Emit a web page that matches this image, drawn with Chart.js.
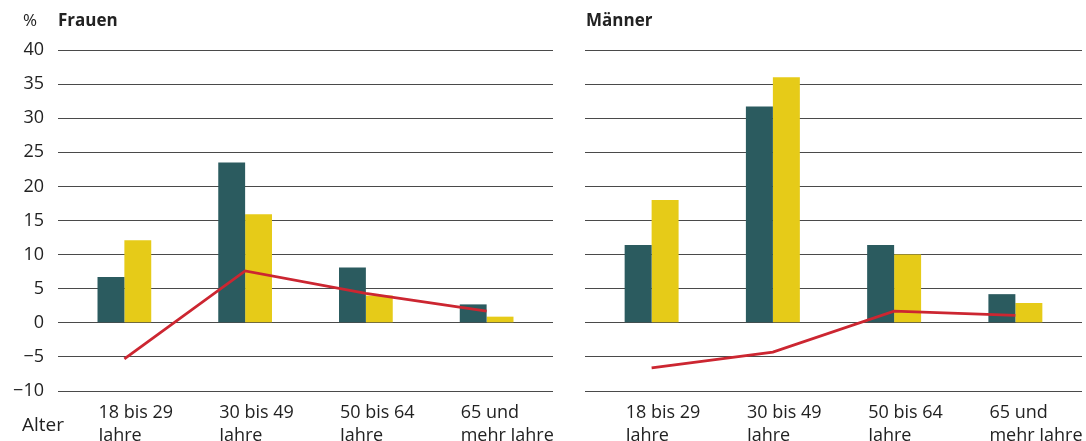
<!DOCTYPE html>
<html>
<head>
<meta charset="utf-8">
<script src="https://cdn.jsdelivr.net/npm/chart.js@4"></script>
<style>
  body { margin: 0; background: #fff; font-family: 'Open Sans', sans-serif; color: #222; }
  #wrap { position: relative; width: 1086px; height: 441px; overflow: hidden; }
  canvas { position: absolute; top: 0; }
  .txt { position: absolute; font-size: 18px; line-height: 20px; white-space: nowrap; }
  .bold { font-weight: bold; font-size: 17px; }
</style>
</head>
<body>
<div id="wrap">
  <canvas id="frauen" width="560" height="441" style="left:0"></canvas>
  <canvas id="maenner" width="507" height="441" style="left:579px"></canvas>
  <div class="txt" style="left:23px; top:10px; font-size:17px">%</div>
  <div class="txt bold" style="left:58px; top:10px">Frauen</div>
  <div class="txt bold" style="left:586px; top:10px">Männer</div>
  <div class="txt" style="left:22px; top:414px; font-size:19px">Alter</div>
</div>
<script>
// Altersgruppen
var categories = [['18 bis 29', 'Jahre'], ['30 bis 49', 'Jahre'], ['50 bis 64', 'Jahre'], ['65 und', 'mehr Jahre']];

// Frauen
var frauenDunkel = [6.7, 23.5, 8.1, 2.7];
var frauenGelb = [12.1, 15.9, 4.0, 0.9];
var frauenLinie = [-5.3, 7.6, 4.3, 1.7];

// Männer
var maennerDunkel = [11.4, 31.7, 11.4, 4.2];
var maennerGelb = [18.0, 36.0, 10.0, 2.9];
var maennerLinie = [-6.6, -4.3, 1.7, 1.1];

// y-Achse
var yMin = -10;
var yMax = 40;
var yStep = 5;

var DUNKEL = '#2b5b5f';
var GELB = '#e6cb18';
var ROT = '#cc2631';
var GRID = '#4a4a4a';

Chart.defaults.font.family = "'Open Sans', sans-serif";
Chart.defaults.font.size = 18;
Chart.defaults.color = '#222';

function makeChart(id, dunkel, gelb, linie, showY, pad) {
    var ctx = document.getElementById(id);
    return new Chart(ctx, {
        type: 'bar',
        data: {
            labels: categories,
            datasets: [
                {
                    type: 'line',
                    data: linie,
                    borderColor: ROT,
                    borderWidth: 2.8,
                    pointRadius: 0,
                    tension: 0,
                    fill: false
                },
                {
                    data: dunkel,
                    backgroundColor: DUNKEL,
                    categoryPercentage: 0.445,
                    barPercentage: 1.0
                },
                {
                    data: gelb,
                    backgroundColor: GELB,
                    categoryPercentage: 0.445,
                    barPercentage: 1.0
                }
            ]
        },
        options: {
            responsive: false,
            animation: false,
            layout: { padding: pad },
            plugins: { legend: { display: false }, tooltip: { enabled: false } },
            scales: {
                x: {
                    grid: { display: false, drawTicks: false },
                    border: { display: false },
                    ticks: {
                        align: 'start',
                        labelOffset: -26,
                        padding: 10,
                        autoSkip: false,
                        maxRotation: 0,
                        font: { size: 18, lineHeight: 1.28 }
                    },
                    afterFit: function(s) {
                        s.height = 50;
                        s.paddingLeft = 0;
                        s.paddingRight = 0;
                    }
                },
                y: {
                    min: yMin,
                    max: yMax,
                    grid: { color: GRID, lineWidth: 1, tickLength: 6, drawTicks: true },
                    border: { display: false },
                    ticks: {
                        display: showY,
                        stepSize: yStep,
                        padding: 14,
                        callback: function(v) { return v < 0 ? '\u2212' + Math.abs(v) : '' + v; }
                    },
                    afterFit: function(s) { s.width = showY ? 64 : 6; }
                },
                yR: {
                    position: 'right',
                    min: yMin,
                    max: yMax,
                    grid: { color: GRID, lineWidth: 1, tickLength: 6, drawTicks: true, drawOnChartArea: false },
                    border: { display: false },
                    ticks: { display: false, stepSize: yStep },
                    afterFit: function(s) { s.width = 6; }
                }
            }
        }
    });
}

makeChart('frauen', frauenDunkel, frauenGelb, frauenLinie, true, { left: 0, right: 7, top: 50, bottom: 0 });
makeChart('maenner', maennerDunkel, maennerGelb, maennerLinie, false, { left: 6, right: 4, top: 50, bottom: 0 });
</script>
</body>
</html>
